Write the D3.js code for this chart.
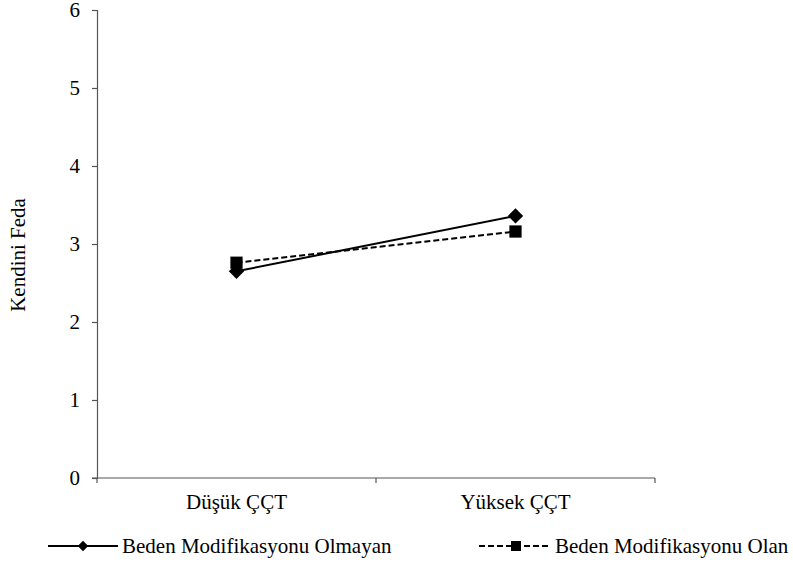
<!DOCTYPE html>
<html>
<head>
<meta charset="utf-8">
<script src="https://cdn.jsdelivr.net/npm/d3@7"></script>
<style>
  body { margin: 0; background: #fff; }
  svg { display: block; }
  svg text { font-family: "Liberation Serif", "Times New Roman", Times, serif; font-size: 21px; fill: #000; }
</style>
</head>
<body>
<svg id="chart" width="793" height="572"></svg>
<script>
// Groups on the x axis
const categories = ["Düşük ÇÇT", "Yüksek ÇÇT"];
// Mean self-sacrifice scores per group
const seriesNames = ["Beden Modifikasyonu Olmayan", "Beden Modifikasyonu Olan"];
const valuesOlmayan = [2.65, 3.36];
const valuesOlan = [2.76, 3.16];
const yTicks = [0, 1, 2, 3, 4, 5, 6];
const yTitle = "Kendini Feda";

const svg = d3.select("#chart");
const margin = { left: 97, right: 138, top: 10, bottom: 94 };
const W = 793, H = 572;

const x = d3.scaleBand().domain(categories).range([margin.left, W - margin.right]);
const y = d3.scaleLinear().domain([0, 6]).range([H - margin.bottom, margin.top]);

const axisColor = "#555";

// Y axis
const yAxis = svg.append("g")
  .attr("transform", `translate(${margin.left},0)`)
  .call(d3.axisLeft(y).tickValues(yTicks).tickSize(5).tickPadding(12).tickFormat(d3.format("d")));
yAxis.attr("font-family", null).attr("font-size", null);
yAxis.select(".domain").attr("stroke", axisColor).attr("stroke-width", 1.2);
yAxis.selectAll(".tick line").attr("stroke", axisColor).attr("stroke-width", 1.2);

// X axis with ticks at band boundaries
const xAxisG = svg.append("g")
  .attr("transform", `translate(0,${y(0)})`);
xAxisG.append("line")
  .attr("x1", margin.left - 5).attr("x2", W - margin.right)
  .attr("stroke", axisColor).attr("stroke-width", 1.2);
const bounds = [margin.left, ...categories.map(c => x(c) + x.bandwidth())];
xAxisG.selectAll("line.tk").data(bounds).enter().append("line")
  .attr("class", "tk")
  .attr("x1", d => d).attr("x2", d => d)
  .attr("y1", 0).attr("y2", 5)
  .attr("stroke", axisColor).attr("stroke-width", 1.2);
xAxisG.selectAll("text").data(categories).enter().append("text")
  .attr("x", d => x(d) + x.bandwidth() / 2)
  .attr("y", 31)
  .attr("text-anchor", "middle")
  .text(d => d);

// Y title
svg.append("text")
  .attr("transform", `translate(25,255) rotate(-90)`)
  .attr("text-anchor", "middle")
  .text(yTitle);

const cx = d => x(d) + x.bandwidth() / 2;
const line = d3.line().x(d => cx(d.c)).y(d => y(d.v));

const dataOlmayan = categories.map((c, i) => ({ c, v: valuesOlmayan[i] }));
const dataOlan = categories.map((c, i) => ({ c, v: valuesOlan[i] }));

const diamond = d3.symbol().type(d3.symbolDiamond2).size(150);
const square = d3.symbol().type(d3.symbolSquare).size(150);

// Series: with body modification (dashed, squares)
svg.append("path").datum(dataOlan)
  .attr("d", line).attr("fill", "none").attr("stroke", "#000")
  .attr("stroke-width", 2).attr("stroke-dasharray", "6,3");
svg.selectAll("path.sq").data(dataOlan).enter().append("path")
  .attr("class", "sq")
  .attr("transform", d => `translate(${cx(d.c)},${y(d.v)})`)
  .attr("d", square).attr("fill", "#000");

// Series: without body modification (solid, diamonds)
svg.append("path").datum(dataOlmayan)
  .attr("d", line).attr("fill", "none").attr("stroke", "#000")
  .attr("stroke-width", 2);
svg.selectAll("path.dm").data(dataOlmayan).enter().append("path")
  .attr("class", "dm")
  .attr("transform", d => `translate(${cx(d.c)},${y(d.v)})`)
  .attr("d", diamond).attr("fill", "#000");

// Legend
const legendY = 546;
const leg1 = svg.append("g").attr("transform", `translate(48,${legendY})`);
leg1.append("line").attr("x1", 0).attr("x2", 70).attr("stroke", "#000").attr("stroke-width", 2);
leg1.append("path").attr("transform", "translate(35,0)")
  .attr("d", d3.symbol().type(d3.symbolDiamond2).size(70)).attr("fill", "#000");
leg1.append("text").attr("x", 74).attr("y", 7).text(seriesNames[0]);

const leg2 = svg.append("g").attr("transform", `translate(479,${legendY})`);
leg2.append("line").attr("x1", 0).attr("x2", 72).attr("stroke", "#000")
  .attr("stroke-width", 2).attr("stroke-dasharray", "6,3");
leg2.append("path").attr("transform", "translate(37,0)")
  .attr("d", d3.symbol().type(d3.symbolSquare).size(100)).attr("fill", "#000");
leg2.append("text").attr("x", 76).attr("y", 7).text(seriesNames[1]);
</script>
</body>
</html>
